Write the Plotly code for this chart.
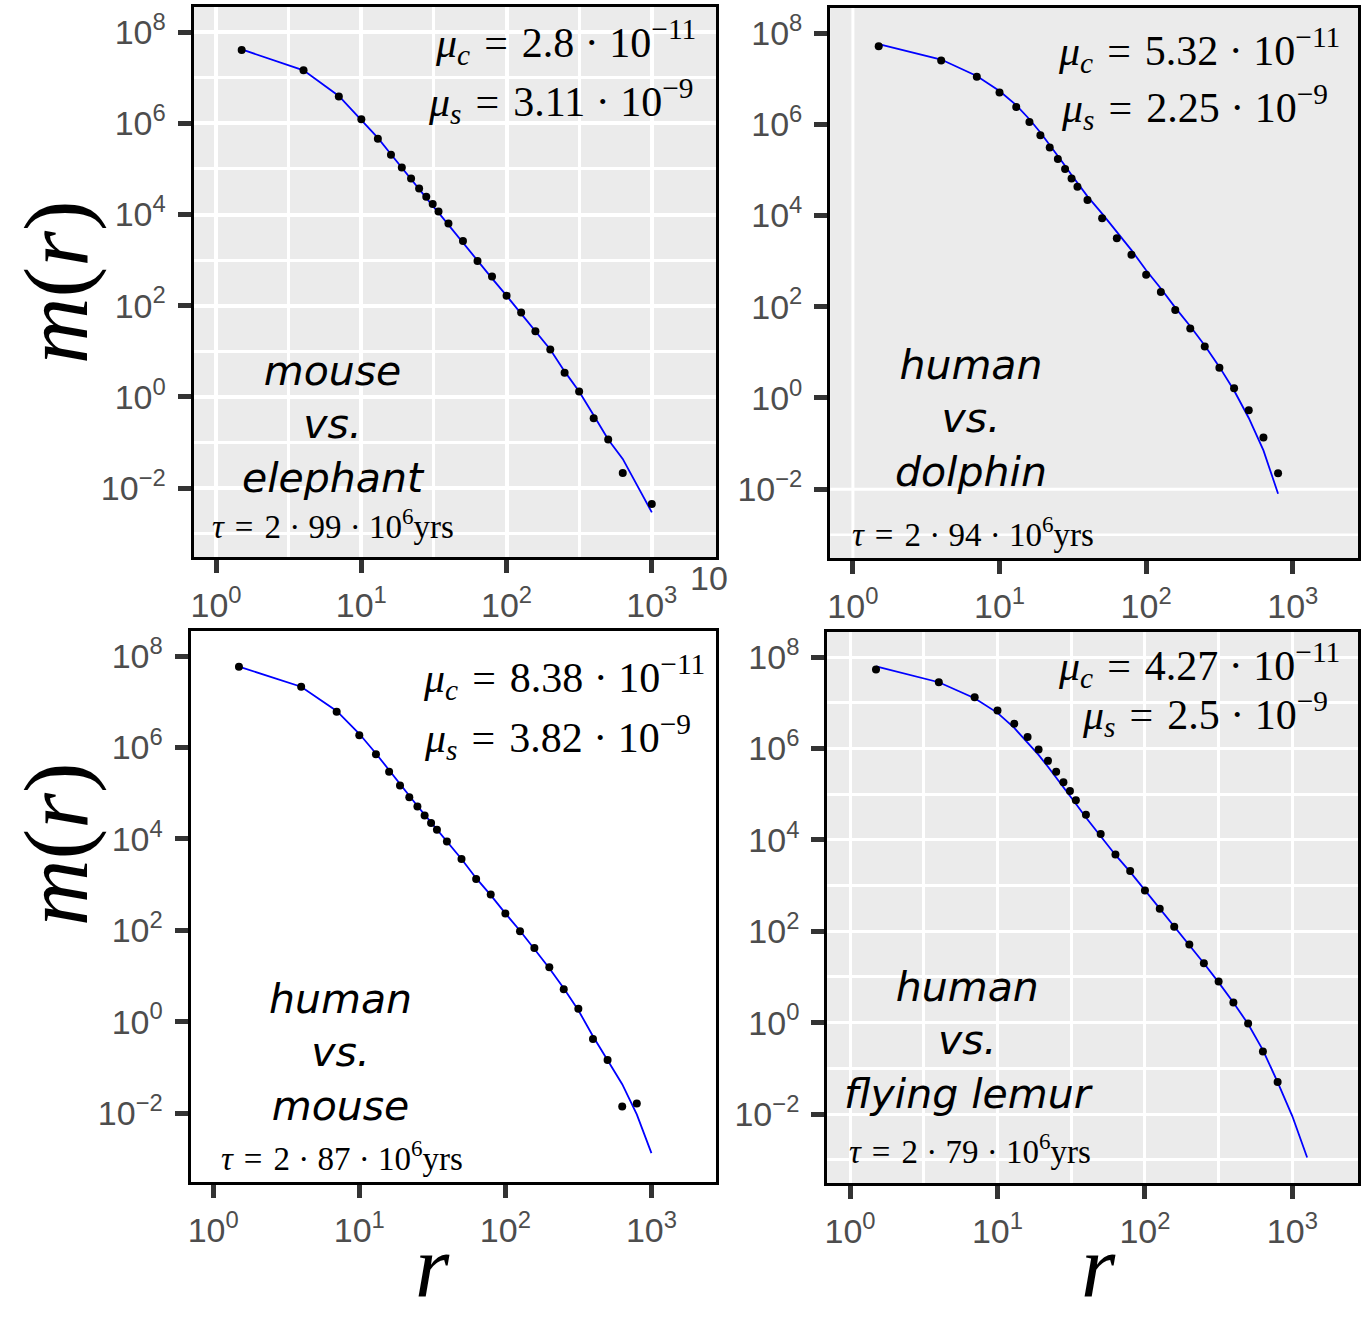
import math
import plotly.graph_objects as go

W, H = 1361, 1317

# ---------------- data ----------------
r_tl_points = [1.5, 4, 7, 10, 13, 16, 19, 22, 25, 28, 31, 34, 39.8, 50.1, 63.1, 79.4,
               100, 126, 158, 200, 251, 316, 398, 501, 631, 1000]
m_tl_points = [4.07e7, 1.45e7, 3.89e6, 1.23e6, 4.57e5, 2.04e5, 1.07e5, 6.17e4, 3.72e4, 2.45e4,
               1.70e4, 1.17e4, 6.31e3, 2.63e3, 955, 437, 166, 70.8, 27.5, 11.0,
               3.39, 1.32, 0.339, 0.117, 0.0214, 0.00447]
r_tl_line = [1.5, 4, 7, 10, 13, 16, 19, 22, 25, 28, 31, 34, 39.8, 50.1, 63.1, 79.4,
             100, 126, 158, 200, 251, 316, 398, 501, 631, 794, 1000]
m_tl_line = [4.17e7, 1.45e7, 3.98e6, 1.20e6, 4.79e5, 2.09e5, 1.05e5, 5.89e4, 3.55e4, 2.29e4,
             1.55e4, 1.10e4, 5.89e3, 2.40e3, 955, 398, 166, 67.6, 27.5, 11.0,
             3.63, 1.32, 0.398, 0.117, 0.0437, 0.0115, 0.00295]

r_tr_points = [1.5, 4, 7, 10, 13, 16, 19, 22, 25, 28, 31, 34, 39.8, 50.1, 63.1, 79.4,
               100, 126, 158, 200, 251, 316, 398, 501, 631, 794]
m_tr_points = [5.13e7, 2.51e7, 1.10e7, 5.01e6, 2.40e6, 1.12e6, 5.75e5, 3.09e5, 1.74e5, 1.05e5,
               6.46e4, 4.27e4, 2.19e4, 8.71e3, 3.16e3, 1.38e3, 501, 209, 85.1, 33.1,
               13.5, 4.57, 1.62, 0.537, 0.135, 0.0224]
r_tr_line = [1.5, 4, 7, 10, 13, 16, 19, 22, 25, 28, 31, 34, 39.8, 50.1, 63.1, 79.4,
             100, 126, 158, 200, 251, 316, 398, 501, 631, 794]
m_tr_line = [5.75e7, 2.63e7, 1.15e7, 5.37e6, 2.63e6, 1.29e6, 6.61e5, 3.55e5, 2.04e5, 1.23e5,
             7.76e4, 5.13e4, 2.63e4, 1.10e4, 4.37e3, 1.74e3, 631, 251, 95.5, 37.2,
             14.1, 4.79, 1.45, 0.363, 0.0708, 0.00794]

r_bl_points = [1.5, 4, 7, 10, 13, 16, 19, 22, 25, 28, 31, 34, 39.8, 50.1, 63.1, 79.4,
               100, 126, 158, 200, 251, 316, 398, 501, 631, 794]
m_bl_points = [5.89e7, 2.14e7, 6.03e6, 1.86e6, 7.08e5, 2.95e5, 1.48e5, 8.13e4, 5.13e4, 3.24e4,
               2.24e4, 1.58e4, 8.71e3, 3.63e3, 1.32e3, 603, 234, 95.5, 40.7, 15.5,
               5.13, 1.91, 0.417, 0.145, 0.0138, 0.0162]
r_bl_line = [1.5, 4, 7, 10, 13, 16, 19, 22, 25, 28, 31, 34, 39.8, 50.1, 63.1, 79.4,
             100, 126, 158, 200, 251, 316, 398, 501, 631, 794, 1000]
m_bl_line = [5.89e7, 2.14e7, 6.31e6, 2.00e6, 7.41e5, 3.16e5, 1.58e5, 8.71e4, 5.25e4, 3.39e4,
             2.29e4, 1.62e4, 8.91e3, 3.63e3, 1.38e3, 589, 234, 97.7, 38.9, 14.8,
             5.37, 1.78, 0.479, 0.138, 0.0427, 0.00933, 0.00132]

r_br_points = [1.5, 4, 7, 10, 13, 16, 19, 22, 25, 28, 31, 34, 39.8, 50.1, 63.1, 79.4,
               100, 126, 158, 200, 251, 316, 398, 501, 631, 794]
m_br_points = [5.37e7, 2.82e7, 1.32e7, 6.76e6, 3.47e6, 1.78e6, 9.55e5, 5.37e5, 3.09e5, 1.82e5,
               1.17e5, 7.41e4, 3.55e4, 1.35e4, 4.79e3, 2.09e3, 776, 309, 126, 51.3,
               20.0, 7.94, 2.75, 0.955, 0.234, 0.0501]
r_br_line = [1.5, 4, 7, 10, 13, 16, 19, 22, 25, 28, 31, 34, 39.8, 50.1, 63.1, 79.4,
             100, 126, 158, 200, 251, 316, 398, 501, 631, 794, 1000, 1259]
m_br_line = [6.31e7, 2.82e7, 1.26e7, 6.03e6, 2.82e6, 1.38e6, 7.24e5, 3.98e5, 2.34e5, 1.45e5,
             9.33e4, 6.17e4, 3.09e4, 1.23e4, 4.68e3, 2.00e3, 794, 316, 129, 51.3,
             20.0, 7.59, 2.75, 0.933, 0.251, 0.0501, 0.00891, 0.00112]

species = ["mouse<br>vs.<br>elephant", "human<br>vs.<br>dolphin",
           "human<br>vs.<br>mouse", "human<br>vs.<br>flying lemur"]
mu_c = ["2.8", "5.32", "8.38", "4.27"]
mu_s = ["3.11", "2.25", "3.82", "2.5"]
tau = ["99", "94", "87", "79"]

x_tickvals = [1, 10, 100, 1000]
x_ticktext = ["10<sup>0</sup>", "10<sup>1</sup>", "10<sup>2</sup>", "10<sup>3</sup>"]
y_tickvals = [1e-2, 1, 1e2, 1e4, 1e6, 1e8]
y_ticktext = ["10<sup>\u22122</sup>", "10<sup>0</sup>", "10<sup>2</sup>", "10<sup>4</sup>",
              "10<sup>6</sup>", "10<sup>8</sup>"]
x_minorvals = [3.162, 31.62, 316.2]
y_minorvals = [1e-3, 1e-1, 1e1, 1e3, 1e5, 1e7]
tr_grid_x = [1]
tr_grid_y = [1e-2, 1e-3]

# ---------------- layout helpers ----------------
boxes = [(191, 7, 715, 557), (829, 8, 1358, 558), (188, 631, 715, 1182), (826, 632, 1358, 1183)]


def px(x):
    return x / W


def py(y):
    return 1 - y / H


TICKFONT = dict(family="Liberation Sans", size=34, color="#4D4D4D")
XR = [-0.155, 3.445]
YR = [-3.51, 8.55]

fig = go.Figure()

panels = [
    (r_tl_line, m_tl_line, r_tl_points, m_tl_points),
    (r_tr_line, m_tr_line, r_tr_points, m_tr_points),
    (r_bl_line, m_bl_line, r_bl_points, m_bl_points),
    (r_br_line, m_br_line, r_br_points, m_br_points),
]
grid_on = [True, False, False, True]
layout = {}
for i, (rl, ml, rp, mp) in enumerate(panels):
    n = "" if i == 0 else str(i + 1)
    xa, ya = "x" + n, "y" + n
    fig.add_trace(go.Scatter(x=rl, y=ml, mode="lines", line=dict(color="#0000FF", width=1.8),
                             xaxis=xa, yaxis=ya, showlegend=False, hoverinfo="skip"))
    fig.add_trace(go.Scatter(x=rp, y=mp, mode="markers", marker=dict(color="black", size=8),
                             xaxis=xa, yaxis=ya, showlegend=False))
    l, t, r, b = boxes[i]
    g = grid_on[i]
    gw = 3.5 if i == 0 else 3
    layout["xaxis" + n] = dict(
        type="log", range=XR, domain=[px(l), px(r)], anchor=ya,
        tickvals=x_tickvals, ticktext=x_ticktext, tickfont=TICKFONT,
        ticks="outside", ticklen=13, tickwidth=4.5, tickcolor="#333333",
        ticklabelstandoff=3,
        showline=True, linecolor="black", linewidth=3, mirror=True, zeroline=False,
        showgrid=g, gridcolor="white", gridwidth=gw,
        minor=dict(tickvals=x_minorvals, showgrid=g, gridcolor="white", gridwidth=2.5, ticks=""),
    )
    layout["yaxis" + n] = dict(
        type="log", range=YR, domain=[py(b), py(t)], anchor=xa,
        tickvals=y_tickvals, ticktext=y_ticktext, tickfont=TICKFONT,
        ticks="outside", ticklen=13, tickwidth=4.5, tickcolor="#333333",
        ticklabelstandoff=5,
        showline=True, linecolor="black", linewidth=3, mirror=True, zeroline=False,
        showgrid=g, gridcolor="white", gridwidth=gw,
        minor=dict(tickvals=y_minorvals, showgrid=g, gridcolor="white", gridwidth=2.5, ticks=""),
    )


def xfrac(v):
    return (math.log10(v) - XR[0]) / (XR[1] - XR[0])


def yfrac(v):
    return (math.log10(v) - YR[0]) / (YR[1] - YR[0])


shapes = [dict(type="rect", xref="x3 domain", yref="y3 domain", x0=0, x1=1, y0=0, y1=1,
               fillcolor="white", line_width=0, layer="below")]
for v in tr_grid_x:
    shapes.append(dict(type="line", xref="x2 domain", yref="y2 domain", x0=xfrac(v), x1=xfrac(v),
                       y0=0, y1=1, line=dict(color="white", width=3), layer="below"))
for k, v in enumerate(tr_grid_y):
    shapes.append(dict(type="line", xref="x2 domain", yref="y2 domain", x0=0, x1=1,
                       y0=yfrac(v), y1=yfrac(v),
                       line=dict(color="white", width=3 if k == 0 else 2.5), layer="below"))

annotations = []


def ann(x, y, text, size, family, xanchor="center", yanchor="middle", angle=0, color="black"):
    annotations.append(dict(x=px(x), y=py(y), xref="paper", yref="paper", text=text,
                            showarrow=False, xanchor=xanchor, yanchor=yanchor, textangle=angle,
                            font=dict(family=family, size=size, color=color), align="center"))


SERIF = "Liberation Serif"
EQ = "\u2004=\u2004"
DOT = " \u00b7 "
mu_c_pos = [(697, 42), (1342, 50), (706, 677), (1342, 665)]
mu_s_pos = [(694, 101), (1330, 107), (692, 737), (1330, 714)]
tau_pos = [(207, 524), (849, 532), (216, 1156), (846, 1149)]
sp_pos = [(331, 425), (970, 418), (338, 1052), (968, 1040)]
for i in range(4):
    ann(*mu_c_pos[i], "<i>\u03bc</i><sub><i>c</i></sub>" + EQ + mu_c[i] + DOT + "10<sup>\u221211</sup>",
        42, SERIF, xanchor="right")
    ann(*mu_s_pos[i], "<i>\u03bc</i><sub><i>s</i></sub>" + EQ + mu_s[i] + DOT + "10<sup>\u22129</sup>",
        42, SERIF, xanchor="right")
    ann(*tau_pos[i], "<i>\u03c4</i>" + EQ + "2" + DOT + tau[i] + DOT + "10<sup>6</sup>yrs",
        33, SERIF, xanchor="left")
    ann(*sp_pos[i], "<i>" + species[i] + "</i>", 41, "DejaVu Sans")

MR = "<i>m</i>(<i>r</i>)"
ann(53, 282, MR, 92, SERIF, angle=-90)
ann(53, 844, MR, 92, SERIF, angle=-90)
ann(430, 1317, "<i>r</i>", 88, SERIF, yanchor="bottom")
ann(1098, 1317, "<i>r</i>", 88, SERIF, yanchor="bottom")
ann(708, 578, "10", 34, "Liberation Sans", color="#4D4D4D")

fig.update_layout(
    width=W, height=H, autosize=False,
    margin=dict(l=0, r=0, t=0, b=0),
    paper_bgcolor="white", plot_bgcolor="#EBEBEB",
    shapes=shapes, annotations=annotations,
    **layout,
)

fig.write_html("out.html")
